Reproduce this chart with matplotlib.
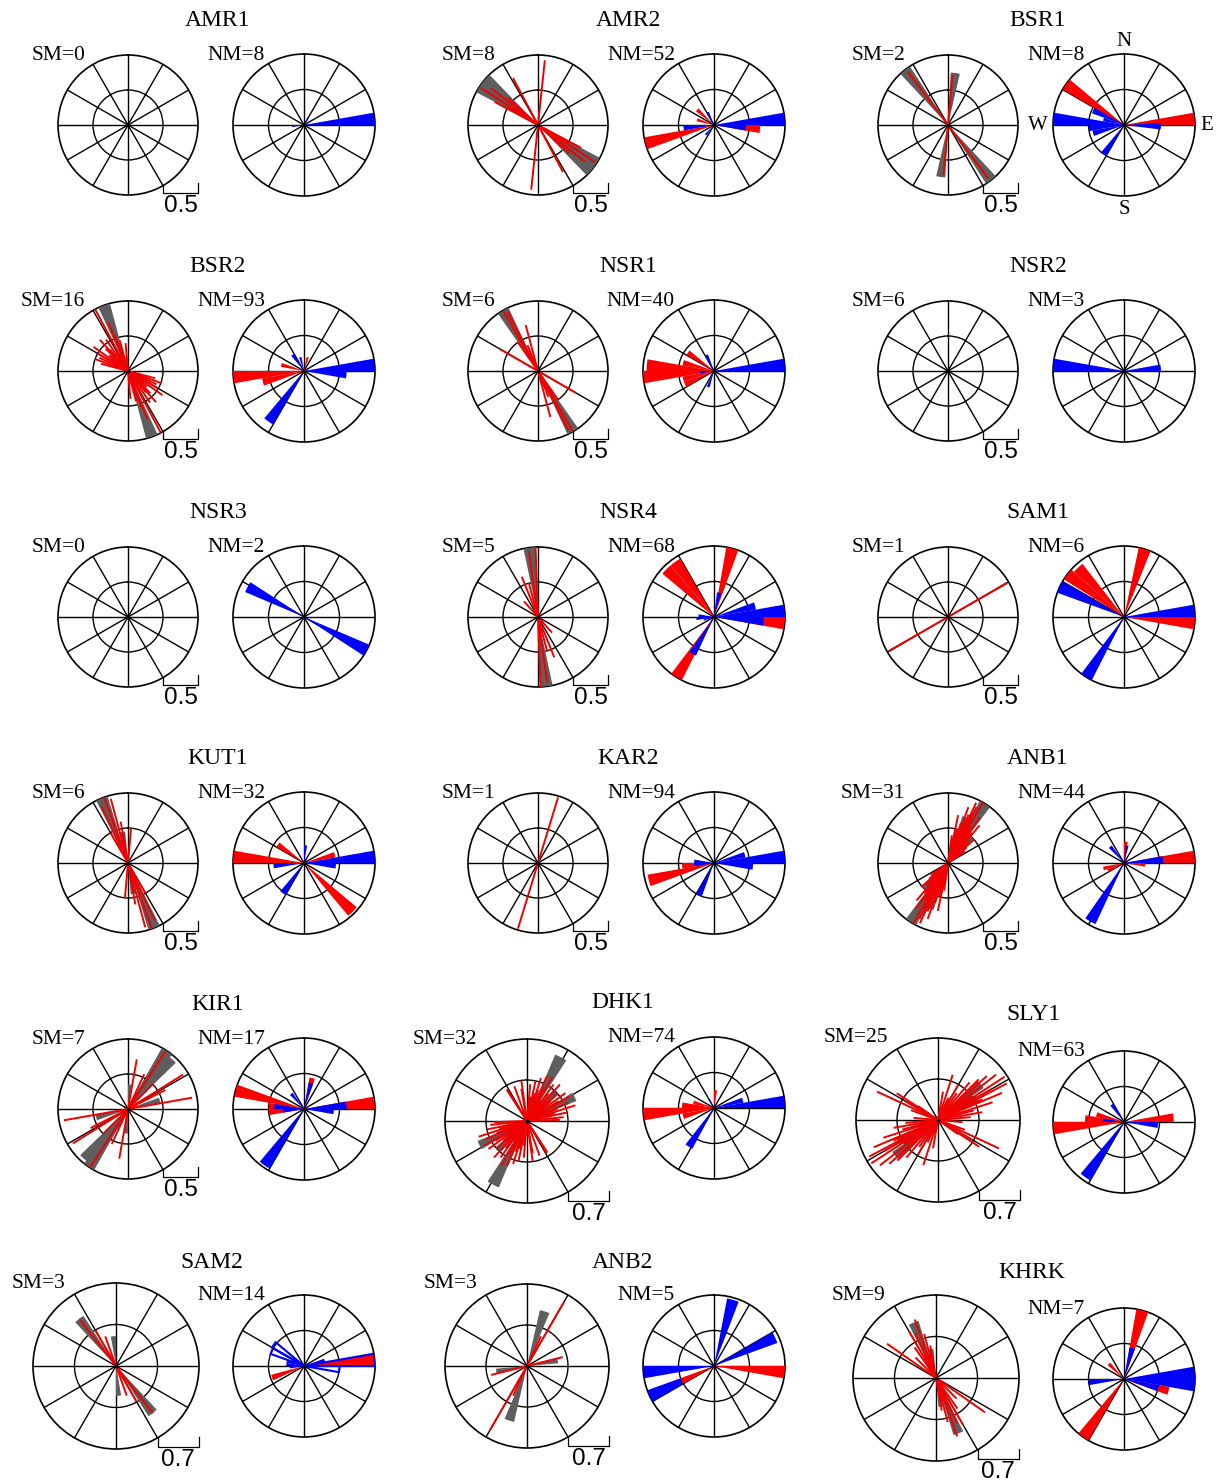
import numpy as np
import matplotlib
matplotlib.use('Agg')
import matplotlib.pyplot as plt

W, H = 1221, 1482

stations = ['AMR1', 'AMR2', 'BSR1', 'BSR2', 'NSR1', 'NSR2', 'NSR3', 'NSR4', 'SAM1',
            'KUT1', 'KAR2', 'ANB1', 'KIR1', 'DHK1', 'SLY1', 'SAM2', 'ANB2', 'KHRK']
sm_count = [0, 8, 2, 16, 6, 6, 0, 5, 1, 6, 1, 31, 7, 32, 25, 3, 3, 9]
nm_count = [8, 52, 8, 93, 40, 3, 2, 68, 6, 32, 94, 44, 17, 74, 63, 14, 5, 7]
scale_label = ['0.5'] * 13 + ['0.7'] * 5

# SM: grey rose (bin centre bearing, length / outer ring), mirrored through the centre
sm_gray = {
    'AMR2': [(303, 1.0), (311, 1.0), (5, 0.18)],
    'BSR1': [(322, 1.0), (8, 0.75)],
    'BSR2': [(340, 1.0)],
    'NSR1': [(330, 1.0)],
    'NSR4': [(353, 1.0)],
    'SAM1': [(60, 0.97)],
    'KUT1': [(338, 1.0), (350, 0.45)],
    'ANB1': [(32, 1.0), (22, 0.7), (42, 0.5)],
    'KIR1': [(34, 1.0), (41, 0.95), (75, 0.47), (5, 0.35)],
    'DHK1': [(28, 0.88), (63, 0.65), (45, 0.5)],
    'SLY1': [(50, 0.68), (62, 0.55)],
    'SAM2': [(322, 0.72), (355, 0.36)],
    'ANB2': [(18, 0.7), (80, 0.38)],
    'KHRK': [(338, 0.72), (350, 0.35)],
}
gray_width = {'SAM1': 2}

# SM: single splitting measurements (fast axis bearing, delay / outer ring)
sm_red = {
    'AMR2': [(303, 0.97), (308, 0.85), (298, 0.7), (312, 0.6), (332, 0.76), (6, 0.93),
             (300, 0.5), (305, 0.4)],
    'BSR1': [(323, 0.95), (5, 0.72)],
    'BSR2': [(332, 1.0), (338, 0.75), (325, 0.55), (315, 0.45), (300, 0.5), (290, 0.5),
             (285, 0.4), (310, 0.35), (320, 0.4), (345, 0.45), (295, 0.45), (305, 0.6),
             (355, 0.4), (330, 0.3), (340, 0.55), (318, 0.6)],
    'NSR1': [(330, 1.0), (333, 0.95), (345, 0.68), (300, 0.62), (325, 0.5), (338, 0.4)],
    'NSR4': [(358, 1.0), (352, 0.95), (338, 0.62), (318, 0.3), (345, 0.5)],
    'SAM1': [(60, 0.97)],
    'KUT1': [(340, 1.0), (345, 0.95), (335, 0.9), (5, 0.5), (350, 0.6), (330, 0.5)],
    'KAR2': [(17, 0.98)],
    'ANB1': [(30, 1.0), (25, 0.95), (20, 0.85), (35, 0.8), (28, 0.7), (18, 0.6), (38, 0.55),
             (45, 0.45), (15, 0.5), (22, 0.4), (33, 0.5), (50, 0.35), (10, 0.35), (27, 0.9),
             (40, 0.7), (12, 0.7), (55, 0.3), (24, 0.65), (32, 0.6), (19, 0.45), (36, 0.4),
             (42, 0.3), (28, 0.5), (16, 0.3), (30, 0.35), (26, 0.8), (34, 0.65), (21, 0.55),
             (8, 0.4), (48, 0.5), (23, 0.75)],
    'KIR1': [(33, 1.0), (10, 0.72), (58, 0.93), (80, 0.93), (63, 0.6), (25, 0.55), (45, 0.5)],
    'DHK1': [(5, 0.45), (12, 0.5), (18, 0.55), (24, 0.6), (30, 0.62), (36, 0.55), (42, 0.6),
             (48, 0.5), (54, 0.58), (60, 0.6), (66, 0.55), (72, 0.62), (78, 0.5), (84, 0.45),
             (20, 0.4), (28, 0.45), (38, 0.42), (50, 0.38), (58, 0.45), (68, 0.4), (15, 0.35),
             (45, 0.35), (63, 0.3), (75, 0.35), (33, 0.3), (340, 0.45), (350, 0.4), (327, 0.45),
             (328, 0.46), (352, 0.5), (8, 0.3), (88, 0.4)],
    'SLY1': [(57, 0.97), (62, 0.95), (52, 0.9), (67, 0.85), (45, 0.7), (72, 0.7), (40, 0.6),
             (18, 0.58), (30, 0.5), (80, 0.55), (85, 0.4), (295, 0.82), (300, 0.45), (290, 0.35),
             (305, 0.3), (123, 0.6), (95, 0.3), (60, 0.75), (48, 0.8), (65, 0.6), (75, 0.45),
             (35, 0.4), (10, 0.35), (25, 0.3), (55, 0.5)],
    'SAM2': [(322, 0.72), (340, 0.38), (330, 0.5)],
    'ANB2': [(30, 0.9), (76, 0.45), (25, 0.4)],
    'KHRK': [(340, 0.75), (305, 0.72), (345, 0.55), (335, 0.6), (325, 0.45), (350, 0.4),
             (315, 0.35), (330, 0.65), (342, 0.3)],
}

# NM: null measurement roses (bin centre bearing, outer[, inner])
nm_red = {
    'AMR2': [(95, 0.65), (255, 1.0), (312, 0.32), (287, 0.25)],
    'BSR1': [(305, 1.0), (85, 1.0)],
    'BSR2': [(265, 1.0), (255, 0.6), (285, 0.33), (15, 0.2)],
    'NSR1': [(265, 1.0), (275, 0.95), (285, 0.45), (255, 0.45), (305, 0.45), (245, 0.45)],
    'NSR4': [(15, 1.0), (315, 0.95), (325, 0.95), (95, 1.0), (212, 1.0)],
    'SAM1': [(17, 1.0), (307, 1.0), (317, 0.95), (95, 1.0)],
    'KUT1': [(275, 1.0), (305, 0.45), (75, 0.45), (135, 0.97)],
    'KAR2': [(255, 0.95), (265, 0.45)],
    'ANB1': [(85, 1.0), (255, 0.3), (245, 0.25), (95, 0.3), (5, 0.3)],
    'KIR1': [(285, 1.0), (275, 0.5), (265, 0.5), (85, 1.0), (15, 0.45)],
    'DHK1': [(265, 1.0), (275, 0.45), (285, 0.3), (255, 0.45), (5, 0.25)],
    'SLY1': [(265, 1.0), (275, 0.55), (285, 0.4), (85, 0.7)],
    'SAM2': [(85, 1.0), (250, 0.48)],
    'ANB2': [(245, 0.5), (95, 1.0)],
    'KHRK': [(15, 1.0), (105, 0.65), (315, 0.3), (215, 1.0)],
}
nm_blue = {
    'AMR1': [(85, 1.0), (30, 0.12), (265, 0.17)],
    'AMR2': [(85, 1.0), (95, 0.45), (265, 0.43), (334, 0.2), (220, 0.18)],
    'BSR1': [(92, 0.52), (295, 0.48), (285, 0.3), (275, 1.0), (265, 0.5), (255, 0.45), (215, 0.5)],
    'BSR2': [(85, 1.0), (95, 0.6), (215, 0.87), (325, 0.28), (345, 0.2)],
    'NSR1': [(85, 1.0), (335, 0.25), (200, 0.24), (265, 0.2)],
    'NSR2': [(275, 1.0), (85, 0.52)],
    'NSR3': [(298, 0.9), (118, 1.0)],
    'NSR4': [(12, 0.35), (75, 0.6), (85, 1.0), (95, 0.7), (265, 0.25), (275, 0.22),
             (255, 0.15), (210, 0.6)],
    'SAM1': [(295, 1.0), (85, 1.0), (212, 1.0)],
    'KUT1': [(85, 1.0), (95, 0.45), (265, 0.43), (215, 0.52), (5, 0.25)],
    'KAR2': [(85, 1.0), (95, 0.55), (75, 0.45), (275, 0.28), (265, 0.28), (205, 0.5)],
    'ANB1': [(85, 0.55), (210, 0.95), (320, 0.3), (10, 0.25)],
    'KIR1': [(85, 0.6), (95, 0.42), (275, 0.42), (265, 0.3), (320, 0.28), (15, 0.38), (215, 0.97)],
    'DHK1': [(85, 1.0), (75, 0.42), (213, 0.65), (330, 0.15)],
    'SLY1': [(95, 0.48), (275, 0.3), (325, 0.3), (215, 0.95)],
    'SAM2': [(75, 0.3), (275, 0.25), (285, 0.25), (265, 0.2)],
    'ANB2': [(16, 0.97), (65, 0.95), (265, 1.0), (245, 1.0, 0.5)],
    'KHRK': [(15, 0.45), (85, 1.0), (95, 1.0), (265, 0.5), (105, 0.5)],
}
nm_blue_open = {
    'SAM2': [(85, 1.0), (95, 0.5), (295, 0.5), (305, 0.52)],
}

# layout in pixels: (sm cx, cy, r), (nm cx, cy, r), title y
layout_fix = {
    'DHK1': ((527, 1121, 82), (714, 1108, 71), 1003),
    'SLY1': ((938, 1120, 82), (1124, 1122, 71), 1015),
    'SAM2': ((116, 1366, 83), (304, 1366, 71), 1262),
    'ANB2': ((527, 1366, 82), (714, 1366, 71), 1262),
    'KHRK': ((936, 1378, 83), (1124, 1379, 71), 1273),
}

fig = plt.figure(figsize=(W / 100, H / 100), dpi=100)
fig.patch.set_facecolor('white')
ov = fig.add_axes([0, 0, 1, 1])
ov.set_xlim(0, W)
ov.set_ylim(H, 0)
ov.axis('off')

serif = 'Liberation Serif'
sans = 'Liberation Sans'


def rose(cx, cy, r):
    ax = fig.add_axes([(cx - r) / W, 1 - (cy + r) / H, 2 * r / W, 2 * r / H], projection='polar')
    ax.set_theta_zero_location('N')
    ax.set_theta_direction(-1)
    ax.set_ylim(0, 1)
    ax.set_thetagrids(np.arange(0, 360, 30), labels=[])
    ax.set_rgrids([0.5], labels=[])
    ax.grid(True, color='black', lw=1.0)
    ax.spines['polar'].set_linewidth(1.2)
    ax.set_axisbelow(True)
    ax.plot(0, 0, 'k.', ms=3.5, zorder=6)
    return ax


def bars(ax, items, color, fill=True):
    for it in items:
        ang, outer = it[0], it[1]
        inner = it[2] if len(it) > 2 else 0.0
        if fill:
            ax.bar(np.radians(ang), outer - inner, width=np.radians(10), bottom=inner,
                   color=color, edgecolor='none', zorder=3)
        else:
            ax.bar(np.radians(ang), outer - inner, width=np.radians(10), bottom=inner,
                   facecolor='none', edgecolor=color, lw=1.5, zorder=4)


for i, name in enumerate(stations):
    row, col = divmod(i, 3)
    if name in layout_fix:
        (sx, sy, sr), (nx, ny, nr), ty = layout_fix[name]
    else:
        sx, sy, sr = 128 + 410 * col, 125 + 246 * row, 70
        nx, ny, nr = 304 + 410 * col, 125 + 246 * row, 71
        ty = 20 + 246 * row

    # SM rose
    ax = rose(sx, sy, sr)
    wd = gray_width.get(name, 10)
    for ang, ln in sm_gray.get(name, []):
        for a in (ang, ang + 180):
            ax.bar(np.radians(a), ln, width=np.radians(wd), color='#5e5e5e',
                   edgecolor='none', zorder=3)
    for ang, ln in sm_red.get(name, []):
        t = np.radians(ang)
        ax.plot([t, t, np.nan, t + np.pi, t + np.pi], [ln, 0, np.nan, 0, ln],
                color='#f00000', lw=1.4, zorder=4, solid_capstyle='butt')

    # NM rose
    ax2 = rose(nx, ny, nr)
    bars(ax2, nm_red.get(name, []), '#ff0000')
    bars(ax2, nm_blue.get(name, []), '#0000ff')
    bars(ax2, nm_blue_open.get(name, []), '#0000ff', fill=False)

    # texts
    ov.text((sx + nx) / 2 + 2, ty, name, family=serif, fontsize=17, ha='center', va='center')
    ov.text(sx - 0.61 * sr, sy - sr, 'SM=%d' % sm_count[i], family=serif, fontsize=15.5,
            ha='right', va='center')
    ov.text(nx - 39, ny - 70, 'NM=%d' % nm_count[i], family=serif, fontsize=15.5,
            ha='right', va='center')

    # scale bar
    x0, x1, yb = sx + sr / 2, sx + sr, sy + 0.97 * sr
    ov.plot([x0, x0, x1, x1], [yb - 10, yb, yb, yb - 10], color='black', lw=0.9)
    ov.text((x0 + x1) / 2, yb + 2, scale_label[i], family=sans, fontsize=17.5,
            ha='center', va='top')

    if name == 'BSR1':
        for lab, dx, dy in [('N', 0, -83), ('S', 0, 84), ('W', -86, 0), ('E', 83, 0)]:
            ov.text(nx + dx, ny + dy, lab, family=serif, fontsize=15, ha='center', va='center')

fig.savefig('out.png', dpi=100, facecolor='white')
